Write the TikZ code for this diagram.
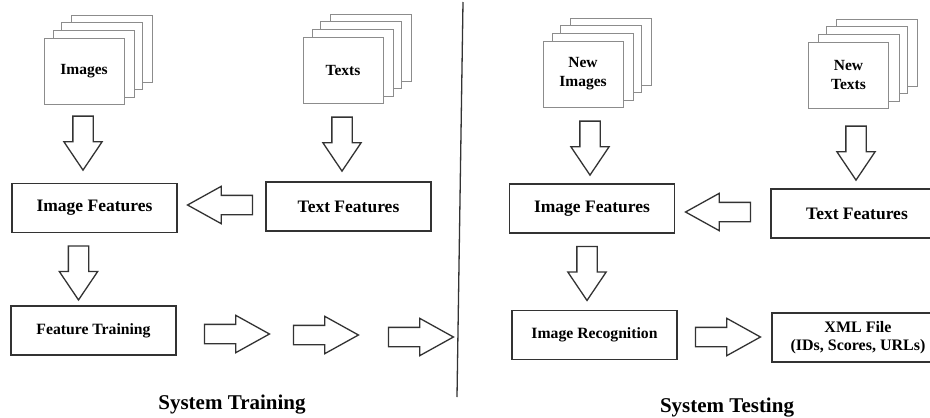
\documentclass[tikz,border=0pt]{standalone}
\usepackage{fontspec}
\setmainfont{Liberation Serif}
\usetikzlibrary{shapes.arrows,positioning,calc,backgrounds}

\tikzset{
  page/.style={draw=black!45, line width=0.9pt, fill=white, minimum width=80pt,
    minimum height=66pt, inner sep=0pt, align=center,
    font=\fontsize{15.5}{19}\selectfont\bfseries},
  sheet/.style={draw=black!45, line width=0.9pt, fill=white},
  box/.style={draw=black!80, line width=1.6pt, fill=white, minimum width=165pt,
    minimum height=49pt, inner sep=0pt, align=center,
    font=\fontsize{17.5}{21}\selectfont\bfseries},
  smallbox/.style={box, font=\fontsize{15.7}{18}\selectfont\bfseries},
  blockarrow/.style={single arrow, draw=black!80, line width=1.3pt, fill=white,
    inner xsep=0pt, inner ysep=9.5pt, anchor=tail, minimum height=54pt,
    single arrow head extend=9pt, single arrow tip angle=68},
  downarrow/.style={blockarrow, rotate=-90},
  harrow/.style={blockarrow, inner ysep=9pt, minimum height=65pt,
    single arrow head extend=9pt, single arrow tip angle=58},
  leftarrow/.style={harrow, rotate=180},
  title/.style={font=\fontsize{21}{25}\selectfont\bfseries}
}

\begin{document}
\begin{tikzpicture}[x=1pt,y=-1pt]
\useasboundingbox (0,0) rectangle (930,418);

% system training
\node[page] (imgs) at (84,71) {Images};
\node[page] (txts) at (343,70) {Texts};
\node[box] (imgfeat) at (94.5,208) {Image Features};
\node[box] (txtfeat) at (348.5,206.5) {Text Features};
\node[smallbox] (train) at (93.5,330.5) {Feature Training};

\node[downarrow] (a1) at ($(imgs.south)+(-1,11)$) {};
\node[downarrow] (a2) at ($(txts.south)+(-1,13)$) {};
\node[leftarrow] (a3) at ($(txtfeat.west)+(-12,-1.5)$) {};
\node[downarrow] (a4) at ($(imgfeat.south)+(-16,12)$) {};
\node[harrow] (t1) at ($(train.east)+(27,3.5)$) {};
\node[harrow] (t2) at ($(t1.tip)+(22,1)$) {};
\node[harrow] (t3) at ($(t2.tip)+(28,2)$) {};

\node[title] (trainttl) at (232,405) {System Training};

% divider
\coordinate (divtop) at (463,2);
\coordinate (divbot) at (457,397);
\draw[line width=1.3pt, black!80] (divtop) -- (divbot);

% system testing
\node[page] (nimgs) at (583,74) {New\\Images};
\node[page] (ntxts) at (848.5,75) {New\\Texts};
\node[box] (imgfeat2) at (592,208.5) {Image Features};
\node[box, minimum width=172pt] (txtfeat2) at (857,213.5) {Text Features};
\node[smallbox] (recog) at (594.5,335) {Image Recognition};
\node[box, minimum width=172pt, font=\fontsize{16}{18}\selectfont\bfseries]
  (xml) at (858,337.5) {XML File\\(IDs, Scores, URLs)};

\node[downarrow] (b1) at ($(nimgs.south)+(7,13)$) {};
\node[downarrow] (b2) at ($(ntxts.south)+(7.5,17)$) {};
\node[leftarrow] (b3) at ($(txtfeat2.west)+(-19,-1.5)$) {};
\node[downarrow] (b4) at ($(imgfeat2.south)+(-5,12)$) {};
\node[harrow] (b5) at ($(recog.east)+(17,2)$) {};

\node[title] (testttl) at (727,408) {System Testing};

% sheets behind the stacks
\begin{scope}[on background layer]
  \foreach \n in {imgs,txts,nimgs,ntxts}
    \foreach \dx/\dy in {28/-22,18/-15,10/-7}
      \draw[sheet] ($(\n.south west)+(\dx,\dy)$) rectangle ($(\n.north east)+(\dx,\dy)$);
\end{scope}

\end{tikzpicture}
\end{document}
